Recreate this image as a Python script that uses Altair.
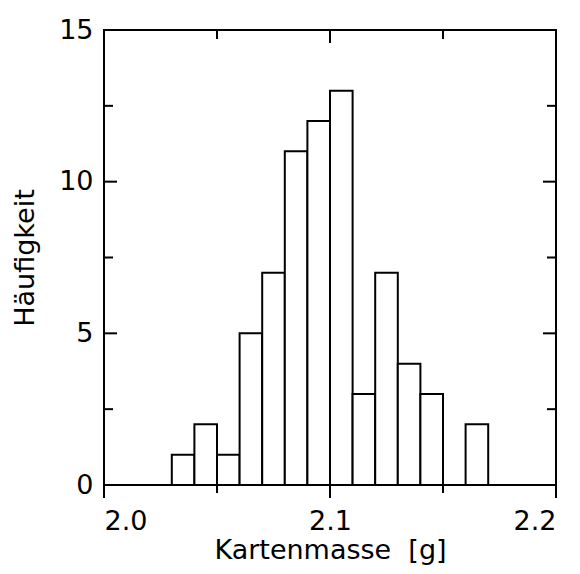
import altair as alt
import pandas as pd

# Histogram data
bin_start = [2.03, 2.04, 2.05, 2.06, 2.07, 2.08, 2.09, 2.10, 2.11, 2.12, 2.13, 2.14, 2.15, 2.16]
counts = [1, 2, 1, 5, 7, 11, 12, 13, 3, 7, 4, 3, 0, 2]
bin_width = 0.01

x_major = [2.0, 2.1, 2.2]
x_minor = [2.05, 2.15]
y_major = [0, 5, 10, 15]
y_minor = [2.5, 7.5, 12.5]

W, H = 452, 455
FONT = "DejaVu Sans"
FS = 27
MAJ, MIN = 13, 9

df = pd.DataFrame({"start": bin_start, "count": counts})
df["end"] = df["start"] + bin_width
df["base"] = 0
df = df[df["count"] > 0]

xscale = alt.Scale(domain=[2.0, 2.2], nice=False, zero=False)
yscale = alt.Scale(domain=[0, 15], nice=False)

X_AXIS = alt.Axis(values=x_major, format=".1f", ticks=False, domain=False, grid=False,
                  labelFont=FONT, labelFontSize=FS, labelColor="black", labelPadding=23,
                  title="Kartenmasse\u00a0\u00a0[g]", titleFont=FONT, titleFontSize=FS,
                  titleFontWeight="normal", titleColor="black", titlePadding=3)
Y_AXIS = alt.Axis(values=y_major, format="d", ticks=False, domain=False, grid=False,
                  labelFont=FONT, labelFontSize=FS, labelColor="black", labelPadding=11,
                  title="Häufigkeit", titleFont=FONT, titleFontSize=FS,
                  titleFontWeight="normal", titleColor="black", titlePadding=19)

bars = alt.Chart(df).mark_rect(fill="white", stroke="black", strokeWidth=2).encode(
    x=alt.X("start:Q", scale=xscale, axis=X_AXIS),
    x2="end:Q",
    y=alt.Y("count:Q", scale=yscale, axis=Y_AXIS),
    y2="base:Q",
)


def xticks(vals, y0, y1):
    return alt.Chart(pd.DataFrame({"v": vals})).mark_rule(color="black", strokeWidth=2).encode(
        x=alt.X("v:Q", scale=xscale, axis=X_AXIS), y=alt.value(y0), y2=alt.value(y1))


def yticks(vals, x0, x1):
    return alt.Chart(pd.DataFrame({"v": vals})).mark_rule(color="black", strokeWidth=2).encode(
        y=alt.Y("v:Q", scale=yscale, axis=Y_AXIS), x=alt.value(x0), x2=alt.value(x1))


layers = [
    bars,
    xticks(x_major, 0, MAJ), xticks(x_minor, 0, MIN),          # top, inward
    xticks(x_major, H, H + MAJ), xticks(x_minor, H, H + 8),    # bottom, outward
    yticks(y_major, 0, MAJ), yticks(y_minor, 0, MIN),          # left, inward
    yticks(y_major, W - MAJ, W), yticks(y_minor, W - MIN, W),  # right, inward
]

chart = alt.layer(*layers).properties(
    width=W, height=H, background="white",
    padding={"left": 3, "top": 8, "right": 5, "bottom": 5}
).configure_view(stroke="black", strokeWidth=2)

chart.save("out.html", embed_options={"renderer": "svg", "actions": False})
